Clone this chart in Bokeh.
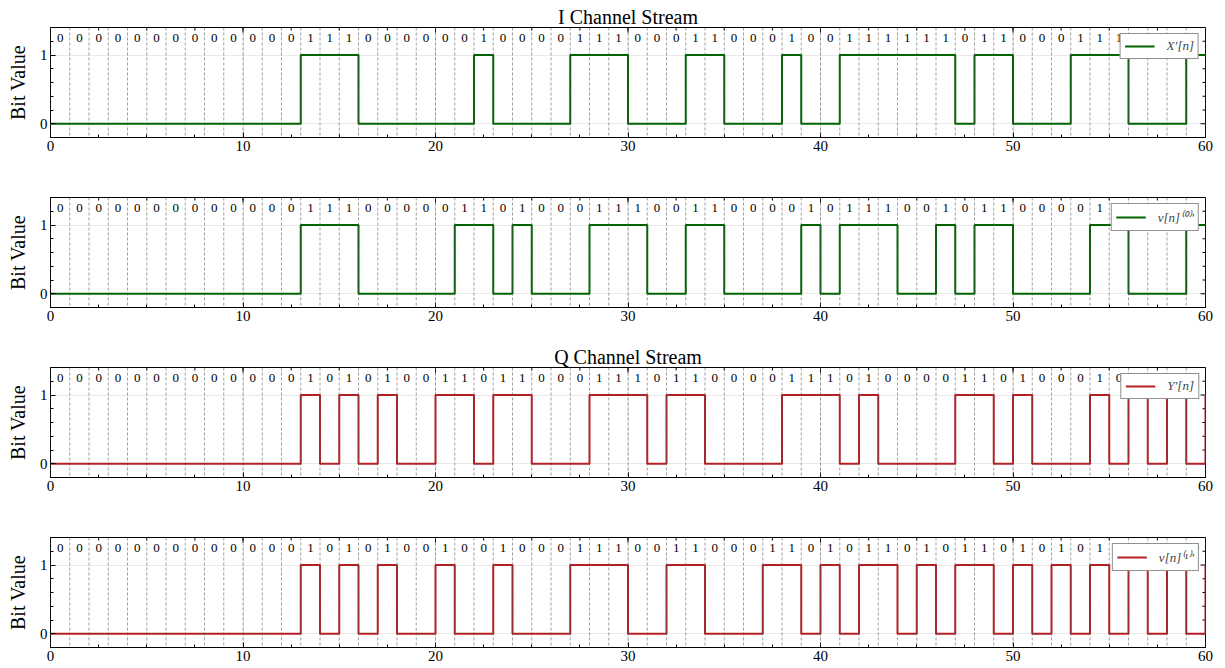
from bokeh.plotting import figure
from bokeh.layouts import column
from bokeh.models import Range1d, FixedTicker, Span, Legend, LegendItem, ColumnDataSource
from bokeh.embed import file_html
from bokeh.resources import INLINE

# ---------------- data ----------------
x_major_ticks = [0, 10, 20, 30, 40, 50, 60]
y_major_ticks = [0, 1]

I_bits = [0, 0, 0, 0, 0, 0, 0, 0, 0, 0, 0, 0, 0, 1, 1, 1, 0, 0, 0, 0,
          0, 0, 1, 0, 0, 0, 0, 1, 1, 1, 0, 0, 0, 1, 1, 0, 0, 0, 1, 0,
          0, 1, 1, 1, 1, 1, 1, 0, 1, 1, 0, 0, 0, 1, 1, 1, 0, 0, 0, 1, 1]
v0_bits = [0, 0, 0, 0, 0, 0, 0, 0, 0, 0, 0, 0, 0, 1, 1, 1, 0, 0, 0, 0,
           0, 1, 1, 0, 1, 0, 0, 0, 1, 1, 1, 0, 0, 1, 1, 0, 0, 0, 0, 1,
           0, 1, 1, 1, 0, 0, 1, 0, 1, 1, 0, 0, 0, 0, 1, 1, 0, 0, 0, 1, 1]
Q_bits = [0, 0, 0, 0, 0, 0, 0, 0, 0, 0, 0, 0, 0, 1, 0, 1, 0, 1, 0, 0,
          1, 1, 0, 1, 1, 0, 0, 0, 1, 1, 1, 0, 1, 1, 0, 0, 0, 0, 1, 1,
          1, 0, 1, 0, 0, 0, 0, 1, 1, 0, 1, 0, 0, 0, 1, 0, 1, 0, 1, 0, 1]
v1_bits = [0, 0, 0, 0, 0, 0, 0, 0, 0, 0, 0, 0, 0, 1, 0, 1, 0, 1, 0, 0,
           1, 0, 0, 1, 0, 0, 0, 1, 1, 1, 0, 0, 1, 1, 0, 0, 0, 1, 1, 0,
           1, 0, 1, 1, 0, 1, 0, 1, 1, 0, 1, 0, 1, 0, 1, 0, 1, 0, 1, 0, 1]

series_labels = ["X\u2032[n]", "v[n]\u207d\u2070\u207e\u2032", "Y\u2032[n]", "v[n]\u207d\u00b9\u207e\u2032"]
titles = ["I Channel Stream", None, "Q Channel Stream", None]
colors = ["#006400", "#006400", "#b52025", "#b52025"]

N_SHOWN = 60
X0, X1 = 0, 60
Y0, Y1 = -0.2, 1.4
FONT = "Liberation Serif"
x_minor = [i * 2.5 for i in range(25)]
y_minor = [-0.2, 0.2, 0.4, 0.6, 0.8, 1.2, 1.4]

FRAME_W, FRAME_H = 1155, 110
LEFT, RIGHT = 50, 13
MAJ_LEN, MIN_LEN = 5, 3  # px


def make_panel(bits, color, label, title, last):
    top = 27
    bottom = 21 if last else 33
    p = figure(width=LEFT + FRAME_W + RIGHT, height=top + FRAME_H + bottom,
               x_range=Range1d(X0, X1), y_range=Range1d(Y0, Y1),
               output_backend="svg", toolbar_location=None,
               min_border_left=LEFT, min_border_right=RIGHT,
               min_border_top=top, min_border_bottom=bottom,
               background_fill_color="white", border_fill_color="white")
    if title:
        p.title.text = title
        p.title.align = "center"
        p.title.text_font = FONT
        p.title.text_font_size = "20px"
        p.title.text_font_style = "normal"
        p.title.text_color = "black"
        p.title.standoff = 0
        p.title.offset = 0
    p.outline_line_color = "black"
    p.outline_line_width = 1

    xt = FixedTicker(ticks=x_major_ticks, minor_ticks=x_minor)
    yt = FixedTicker(ticks=y_major_ticks, minor_ticks=y_minor)
    p.xaxis.ticker = xt
    p.yaxis.ticker = yt

    for ax in p.xaxis + p.yaxis:
        ax.major_tick_in = MAJ_LEN
        ax.major_tick_out = 0
        ax.minor_tick_in = MIN_LEN
        ax.minor_tick_out = 0
        ax.axis_line_color = "black"
        ax.major_tick_line_color = "black"
        ax.minor_tick_line_color = "black"
        ax.major_label_text_font = FONT
        ax.major_label_text_font_size = "15px"
        ax.major_label_text_color = "black"
        ax.major_label_standoff = 3
    p.yaxis.axis_label = "Bit Value"
    p.yaxis.axis_label_text_font = FONT
    p.yaxis.axis_label_text_font_size = "20px"
    p.yaxis.axis_label_text_font_style = "normal"
    p.yaxis.axis_label_text_color = "black"
    p.yaxis.axis_label_standoff = 8

    # mirrored ticks on top and right edges (drawn inside the frame)
    px_x = (X1 - X0) / FRAME_W
    px_y = (Y1 - Y0) / FRAME_H
    tx, ty0, tx1, ty1 = [], [], [], []
    for t in x_major_ticks:
        tx.append(t); ty0.append(Y1); tx1.append(t); ty1.append(Y1 - MAJ_LEN * px_y)
    for t in x_minor:
        tx.append(t); ty0.append(Y1); tx1.append(t); ty1.append(Y1 - MIN_LEN * px_y)
    for t in y_major_ticks:
        tx.append(X1); ty0.append(t); tx1.append(X1 - MAJ_LEN * px_x); ty1.append(t)
    for t in y_minor:
        tx.append(X1); ty0.append(t); tx1.append(X1 - MIN_LEN * px_x); ty1.append(t)
    p.segment(x0=tx, y0=ty0, x1=tx1, y1=ty1, line_color="black", line_width=1)

    p.xgrid.ticker = xt
    p.ygrid.ticker = yt
    p.xgrid.grid_line_color = "#c8c8c8"
    p.ygrid.grid_line_color = "#c8c8c8"
    p.xgrid.grid_line_dash = "1 1"
    p.ygrid.grid_line_dash = "1 1"
    p.xgrid.grid_line_width = 0.8
    p.ygrid.grid_line_width = 0.8

    # bit boundaries
    for i in range(N_SHOWN + 1):
        p.add_layout(Span(location=i, dimension="height", line_color="#555555",
                          line_width=0.7, line_dash="3 2", line_alpha=0.8))

    xs = list(range(len(bits)))
    src = ColumnDataSource(dict(x=xs, y=bits))
    r = p.step(x="x", y="y", source=src, mode="after", line_width=2, line_color=color)

    lab = ColumnDataSource(dict(x=[i + 0.5 for i in range(N_SHOWN)],
                                y=[1.25] * N_SHOWN,
                                t=[str(b) for b in bits[:N_SHOWN]]))
    p.text(x="x", y="y", text="t", source=lab, text_align="center",
           text_baseline="middle", text_font_size="13px",
           text_font={"value": FONT}, text_color="black")

    leg = Legend(items=[LegendItem(label=label, renderers=[r])],
                 location="top_right", margin=6, padding=4, spacing=0,
                 glyph_width=30, glyph_height=14, label_standoff=12,
                 label_text_font=FONT, label_text_font_size="13px",
                 label_text_font_style="italic", label_height=14,
                 border_line_color="#222222", border_line_width=1,
                 background_fill_color="white", background_fill_alpha=1)
    p.add_layout(leg)
    return p


figs = [make_panel(b, c, l, t, i == 3)
        for i, (b, c, l, t) in enumerate(zip([I_bits, v0_bits, Q_bits, v1_bits],
                                             colors, series_labels, titles))]
layout = column(*figs, spacing=0)
open("out.html", "w").write(file_html(layout, INLINE))
